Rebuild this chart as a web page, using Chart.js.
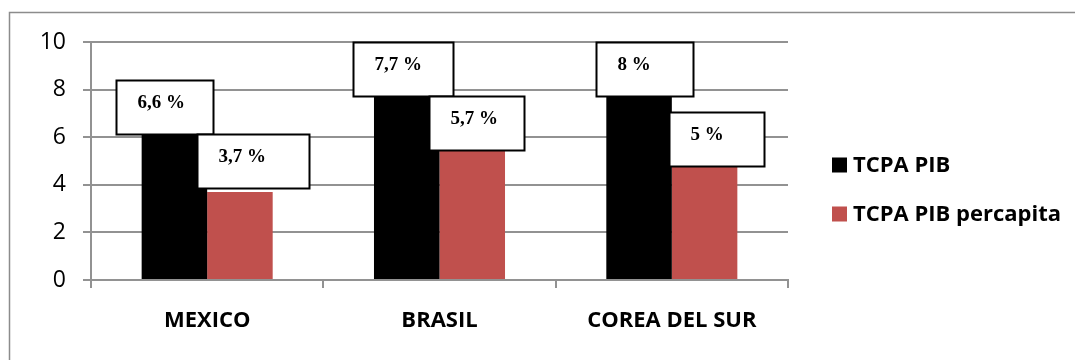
<!DOCTYPE html>
<html>
<head>
<meta charset="utf-8">
<script src="https://cdn.jsdelivr.net/npm/chart.js@4.4.0/dist/chart.umd.min.js"></script>
<style>
  html, body { margin: 0; padding: 0; background: #fff; }
  #wrap { width: 1075px; height: 360px; position: relative; }
</style>
</head>
<body>
<div id="wrap"><canvas id="tcpaChart"></canvas></div>
<script>
const paises = ["MEXICO", "BRASIL", "COREA DEL SUR"];
const tcpaPib = [6.6, 7.7, 8];
const tcpaPibPercapita = [3.7, 5.7, 5];
const yTicks = [0, 2, 4, 6, 8, 10];

const gridColor = "#929292";
const sansFont = "'Open Sans', 'Liberation Sans', sans-serif";

// where each value box sits: [dx from bar centre, dy from bar top, box width]
const boxPlacement = [
  [[-58.5, -43, 97], [-53.5, -55, 100], [-43.3, -47.8, 97]],
  [[-43, -57.7, 112], [-43, -48.5, 95], [-35.5, -49.5, 95]],
];
const boxHeight = 54;

function fmtPct(v) {
  return String(v).replace(".", ",") + " %";
}

const frameBorder = {
  id: "frameBorder",
  beforeDraw(chart) {
    const ctx = chart.ctx;
    ctx.save();
    ctx.strokeStyle = "#8c8c8c";
    ctx.lineWidth = 1.5;
    ctx.strokeRect(9.5, 12.5, 1200, 600);
    ctx.restore();
  },
};

const valueBoxes = {
  id: "valueBoxes",
  afterDatasetsDraw(chart) {
    const ctx = chart.ctx;
    ctx.save();
    chart.data.datasets.forEach((ds, i) => {
      chart.getDatasetMeta(i).data.forEach((bar, j) => {
        const [dx, dy, w] = boxPlacement[i][j];
        const x = Math.round(bar.x + dx) + 0.5;
        const y = Math.round(bar.y + dy) + 0.5;
        ctx.fillStyle = "#ffffff";
        ctx.fillRect(x, y, w, boxHeight);
        ctx.strokeStyle = "#000000";
        ctx.lineWidth = 2;
        ctx.strokeRect(x, y, w, boxHeight);
        ctx.fillStyle = "#000000";
        ctx.font = "bold 19px 'Liberation Serif', 'Times New Roman', serif";
        ctx.textAlign = "left";
        ctx.textBaseline = "middle";
        ctx.fillText(fmtPct(ds.data[j]), x + 21, y + 23);
      });
    });
    ctx.restore();
  },
};

const sideLegend = {
  id: "sideLegend",
  afterDraw(chart) {
    const ctx = chart.ctx;
    ctx.save();
    ctx.font = "bold 22px " + sansFont;
    ctx.textAlign = "left";
    ctx.textBaseline = "middle";
    chart.data.datasets.forEach((ds, i) => {
      const cy = 165 + i * 49;
      ctx.fillStyle = ds.backgroundColor;
      ctx.fillRect(832, cy - 7.5, 15, 15);
      ctx.fillStyle = "#000000";
      ctx.fillText(ds.label, 853, cy + 1);
    });
    ctx.restore();
  },
};

new Chart(document.getElementById("tcpaChart"), {
  type: "bar",
  data: {
    labels: paises,
    datasets: [
      {
        label: "TCPA PIB",
        data: tcpaPib,
        backgroundColor: "#000000",
        borderWidth: 0,
        categoryPercentage: 0.564,
        barPercentage: 1,
      },
      {
        label: "TCPA PIB percapita",
        data: tcpaPibPercapita,
        backgroundColor: "#C0504D",
        borderWidth: 0,
        categoryPercentage: 0.564,
        barPercentage: 1,
      },
    ],
  },
  options: {
    responsive: true,
    maintainAspectRatio: false,
    animation: false,
    layout: {
      padding: { left: 10, top: 42, right: 287, bottom: 0 },
    },
    plugins: {
      legend: { display: false },
      tooltip: { enabled: false },
    },
    scales: {
      x: {
        afterFit(scale) {
          scale.height = 80;
        },
        grid: {
          display: true,
          drawOnChartArea: false,
          drawTicks: true,
          tickLength: 8,
          offset: true,
          color: gridColor,
          lineWidth: 2,
        },
        border: { display: true, color: gridColor, width: 2 },
        ticks: {
          color: "#000000",
          padding: 20,
          font: { family: sansFont, size: 22, weight: "bold" },
        },
      },
      y: {
        min: 0,
        max: 10,
        afterBuildTicks(scale) {
          scale.ticks = yTicks.map((v) => ({ value: v }));
        },
        afterFit(scale) {
          scale.width = 81;
        },
        grid: {
          color: gridColor,
          lineWidth: 2,
          tickLength: 8,
          drawTicks: true,
        },
        border: { display: true, color: gridColor, width: 2 },
        ticks: {
          color: "#000000",
          padding: 17,
          font: { family: sansFont, size: 23 },
        },
      },
    },
  },
  plugins: [frameBorder, valueBoxes, sideLegend],
});
</script>
</body>
</html>
